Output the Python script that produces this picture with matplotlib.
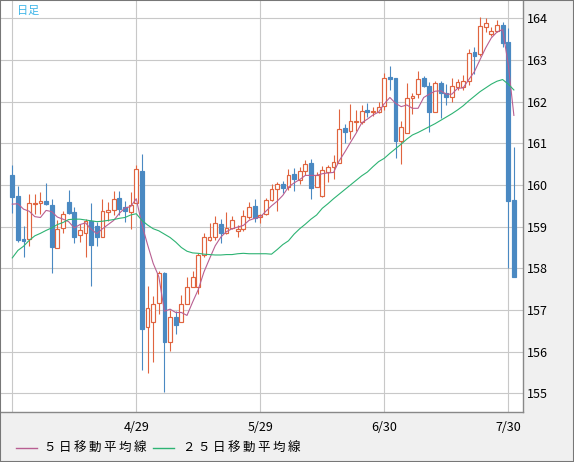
import matplotlib.pyplot as plt
from matplotlib.patches import Rectangle
from matplotlib.lines import Line2D

# daily candles (index 0 = first candle on the chart)
opens = [160.24, 159.74, 158.71, 158.70, 159.55, 159.56, 159.62, 159.52, 158.48, 158.96,
         159.59, 159.35, 158.79, 158.85, 159.14, 159.02, 158.74, 159.36, 159.39, 159.68,
         159.48, 159.36, 159.56, 160.34, 156.58, 156.70, 157.16, 157.88, 156.22, 156.82,
         156.70, 157.14, 157.54, 157.56, 158.32, 158.68, 158.74, 159.06, 158.84, 158.97,
         158.90, 158.94, 159.24, 159.50, 159.22, 159.30, 159.64, 159.90, 160.02, 159.94,
         160.26, 160.12, 160.34, 160.52, 159.94, 159.74, 160.32, 160.44, 160.53, 161.36,
         161.30, 161.51, 161.51, 161.80, 161.76, 161.76, 161.90, 162.60, 162.56, 161.06,
         161.25, 162.08, 162.18, 162.56, 162.38, 161.76, 162.45, 162.20, 162.10, 162.34,
         162.36, 162.50, 163.20, 163.14, 163.78, 163.62, 163.70, 163.84, 163.44, 159.64]
highs = [160.48, 159.98, 159.02, 159.78, 159.78, 159.83, 160.04, 159.66, 159.16, 159.38,
         159.88, 159.46, 159.06, 159.18, 159.56, 159.11, 159.66, 159.60, 159.85, 159.86,
         159.61, 159.82, 160.49, 160.74, 157.58, 157.34, 157.94, 157.92, 157.00, 156.98,
         157.36, 157.78, 157.94, 158.36, 158.84, 159.08, 159.26, 159.18, 159.36, 159.26,
         159.03, 159.40, 159.60, 159.66, 159.30, 159.68, 160.02, 160.08, 160.10, 160.38,
         160.40, 160.42, 160.60, 160.62, 160.30, 160.46, 160.48, 160.72, 161.82, 161.46,
         161.94, 161.80, 161.91, 161.97, 161.86, 162.00, 162.69, 162.86, 162.56, 161.54,
         162.45, 162.20, 162.74, 162.62, 162.48, 162.50, 162.50, 162.42, 162.56, 162.54,
         162.63, 163.26, 163.32, 164.02, 164.00, 163.80, 163.96, 163.92, 163.76, 160.90]
lows = [159.33, 158.64, 158.28, 158.54, 159.30, 159.30, 159.52, 157.89, 158.48, 158.85,
        159.30, 158.61, 158.64, 158.26, 157.58, 158.54, 158.74, 159.14, 159.28, 159.28,
        159.10, 158.95, 159.56, 155.56, 155.50, 155.75, 156.90, 155.04, 156.02, 156.42,
        156.70, 157.14, 157.54, 157.38, 158.28, 158.66, 158.68, 158.60, 158.82, 158.94,
        158.76, 158.90, 159.18, 159.12, 159.09, 159.28, 159.62, 159.38, 159.80, 159.88,
        159.86, 160.02, 160.24, 159.66, 159.94, 159.70, 160.06, 160.14, 160.53, 161.00,
        161.11, 161.30, 161.46, 161.62, 161.66, 161.73, 161.80, 162.28, 160.65, 160.50,
        161.25, 161.70, 162.08, 162.36, 161.28, 161.76, 161.61, 161.92, 162.00, 162.28,
        162.28, 162.40, 162.66, 163.10, 163.68, 163.58, 163.66, 163.32, 158.01, 157.80]
closes = [159.72, 158.68, 158.66, 159.56, 159.57, 159.62, 159.54, 158.50, 158.94, 159.30,
          159.33, 158.76, 158.92, 159.14, 158.57, 158.74, 159.38, 159.40, 159.66, 159.42,
          159.38, 159.52, 160.38, 156.54, 157.04, 157.14, 157.89, 156.22, 156.82, 156.65,
          157.14, 157.54, 157.80, 158.32, 158.76, 158.74, 159.08, 158.84, 158.96, 159.15,
          158.94, 159.25, 159.46, 159.20, 159.28, 159.64, 159.90, 160.02, 159.93, 160.24,
          160.14, 160.33, 160.50, 159.92, 160.24, 160.36, 160.42, 160.54, 161.34, 161.28,
          161.53, 161.53, 161.78, 161.76, 161.78, 161.88, 162.56, 162.54, 161.06, 161.38,
          162.08, 162.14, 162.54, 162.38, 161.74, 162.44, 162.20, 162.12, 162.38, 162.46,
          162.50, 163.17, 163.10, 163.82, 163.88, 163.70, 163.84, 163.40, 159.62, 157.80]

# moving averages
ma5 = [159.54, 159.55, 159.42, 159.37, 159.24, 159.22, 159.39, 159.36, 159.23, 159.18,
       159.12, 158.97, 159.05, 159.09, 158.94, 158.83, 158.95, 159.05, 159.15, 159.32,
       159.45, 159.48, 159.67, 159.05, 158.57, 158.12, 157.80, 156.97, 157.02, 156.94,
       156.94, 156.87, 157.19, 157.49, 157.91, 158.23, 158.54, 158.75, 158.88, 158.95,
       158.99, 159.03, 159.15, 159.20, 159.23, 159.37, 159.50, 159.61, 159.75, 159.95,
       160.05, 160.13, 160.23, 160.23, 160.23, 160.27, 160.29, 160.30, 160.58, 160.79,
       161.02, 161.24, 161.49, 161.58, 161.68, 161.75, 161.95, 162.10, 161.96, 161.88,
       161.92, 161.84, 161.84, 162.10, 162.18, 162.25, 162.26, 162.18, 162.18, 162.32,
       162.33, 162.53, 162.72, 163.01, 163.29, 163.53, 163.67, 163.73, 162.89, 161.67]
ma25 = [158.25, 158.43, 158.53, 158.67, 158.78, 158.84, 158.91, 158.97, 159.05, 159.10,
        159.17, 159.18, 159.18, 159.16, 159.14, 159.12, 159.13, 159.15, 159.17, 159.20,
        159.22, 159.28, 159.31, 159.15, 159.04, 158.95, 158.90, 158.82, 158.74, 158.63,
        158.50, 158.41, 158.37, 158.36, 158.34, 158.33, 158.32, 158.32, 158.33, 158.33,
        158.35, 158.36, 158.35, 158.35, 158.35, 158.35, 158.34, 158.45, 158.57, 158.66,
        158.82, 158.95, 159.06, 159.18, 159.28, 159.44, 159.55, 159.67, 159.78, 159.89,
        160.00, 160.11, 160.22, 160.31, 160.44, 160.56, 160.64, 160.76, 160.87, 160.98,
        161.10, 161.20, 161.26, 161.33, 161.40, 161.47, 161.55, 161.63, 161.71, 161.80,
        161.90, 162.02, 162.13, 162.24, 162.33, 162.42, 162.49, 162.53, 162.42, 162.28]

tick_idx = [0, 22, 44, 66, 88]
tick_labels = ["", "4/29", "5/29", "6/30", "7/30"]
price_ticks = list(range(155, 165))

UP = "#e0643f"
DOWN = "#4a89c2"
MA5_COLOR = "#b85f92"
MA25_COLOR = "#2db373"

plt.rcParams['font.family'] = ['Noto Sans CJK JP', 'DejaVu Sans']

fig = plt.figure(figsize=(5.74, 4.62), dpi=100, facecolor="#f0f0f0")
ax = fig.add_axes([1 / 574, 1 - 412.3 / 462, 522.3 / 574, 411.3 / 462])
ax.set_facecolor("white")

# candles
for i, (o, h, l, c) in enumerate(zip(opens, highs, lows, closes)):
    up = c >= o
    color = UP if up else DOWN
    top, bot = max(o, c), min(o, c)
    ax.vlines(i, top, h, color=color, lw=0.8, zorder=2)
    ax.vlines(i, l, bot, color=color, lw=0.8, zorder=2)
    ax.add_patch(Rectangle((i - 0.34, bot), 0.68, max(top - bot, 0.02),
                           facecolor="white" if up else DOWN,
                           edgecolor=color, lw=0.85, zorder=2))

x = list(range(len(closes)))
ax.plot(x, ma5, color=MA5_COLOR, lw=0.8, zorder=3)
ax.plot(x, ma25, color=MA25_COLOR, lw=0.8, zorder=3)

ax.set_xlim(-2.0, 90.67)
ax.set_ylim(154.545, 164.415)
ax.set_xticks(tick_idx)
ax.set_xticklabels(tick_labels)
ax.set_yticks(price_ticks)
ax.yaxis.tick_right()
ax.tick_params(axis="both", length=0, labelsize=9, colors="black")
ax.tick_params(axis="x", pad=6)
ax.tick_params(axis="y", pad=2.5)
ax.grid(True, color="#c8c8c8", lw=0.8)
ax.set_axisbelow(True)
for side in ["right", "bottom"]:
    ax.spines[side].set_color("#888888")
    ax.spines[side].set_linewidth(1.0)
for side in ["left", "top"]:
    ax.spines[side].set_visible(False)

# title tag
fig.text(17 / 574, 1 - 10.5 / 462, "日足", color="#3db5e8", fontsize=8, va="center", ha="left")

# legend under the chart
ly = 1 - 448 / 462
fig.add_artist(Line2D([16 / 574, 36.5 / 574], [ly, ly], color=MA5_COLOR, lw=1.0))
fig.text(44 / 574, ly, "５ 日 移 動 平 均 線".replace(" ", "\u2009"), fontsize=9, va="center", ha="left")
fig.add_artist(Line2D([153 / 574, 174 / 574], [ly, ly], color=MA25_COLOR, lw=1.0))
fig.text(183 / 574, ly, "２ ５ 日 移 動 平 均 線".replace(" ", "\u2009"), fontsize=9, va="center", ha="left")

# outer frame
fig.add_artist(Rectangle((0, 0), 1, 1, transform=fig.transFigure, fill=False,
                         edgecolor="#777777", lw=1.5))

fig.savefig("out.png", dpi=100, facecolor=fig.get_facecolor())
